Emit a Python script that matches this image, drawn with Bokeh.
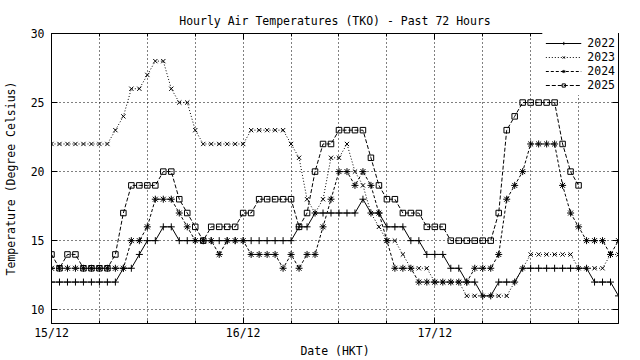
from bokeh.plotting import figure
from bokeh.models import FixedTicker, Legend, LegendItem, LinearAxis, Range1d
from bokeh.embed import file_html
from bokeh.resources import INLINE

# hours since 15/12 00:00 HKT
hours = list(range(72))
day_ticks = [0, 24, 48]
day_labels = ["15/12", "16/12", "17/12"]
six_hour_ticks = [6, 12, 18, 30, 36, 42, 54, 60, 66]
temp_ticks = [10, 15, 20, 25, 30]

t2022 = [12, 12, 12, 12, 12, 12, 12, 12, 12, 13, 13, 14, 15, 15, 16, 16,
         15, 15, 15, 15, 15, 15, 15, 15, 15, 15, 15, 15, 15, 15, 15,
         16, 16, 17, 17, 17, 17, 17, 17, 18, 17, 17, 16, 16, 16, 15, 15,
         14, 14, 14, 13, 13, 12, 12, 11, 11, 12, 12, 12,
         13, 13, 13, 13, 13, 13, 13, 13, 13, 12, 12, 12, 11]
t2023 = [22, 22, 22, 22, 22, 22, 22, 22, 23, 24, 26, 26, 27, 28, 28, 26, 25, 25, 23,
         22, 22, 22, 22, 22, 22, 23, 23, 23, 23, 23,
         22, 21, 18, 17, 18, 21, 21, 22, 20, 19, 17, 16, 15, 15, 14, 13, 13, 13,
         12, 12, 12, 12, 11, 11, 11, 11, 11, 11, 12, 13,
         14, 14, 14, 14, 14, 14, 13, 13, 13, 13, 14, 14]
t2024 = [13, 13, 13, 13, 13, 13, 13, 13, 13, 13, 15, 15, 16, 18, 18, 18,
         17, 16, 15, 15, 15, 14, 15, 15, 15, 14, 14, 14, 14,
         13, 14, 13, 14, 14, 16, 18, 20, 20, 19, 20, 19, 17, 15,
         13, 13, 13, 12, 12, 12, 12, 12, 12, 12, 13, 13, 13,
         14, 18, 19, 20, 22, 22, 22, 22, 19, 17, 16, 15, 15, 15, 14, 15]
t2025 = [14, 13, 14, 14, 13, 13, 13, 13, 14, 17, 19, 19, 19, 19, 20, 20,
         18, 17, 16, 15, 16, 16, 16, 16, 17, 17, 18, 18, 18, 18, 18,
         16, 17, 20, 22, 22, 23, 23, 23, 23, 21, 19, 18, 18, 17, 17, 17,
         16, 16, 16, 15, 15, 15, 15, 15, 15, 17, 23, 24, 25, 25, 25, 25, 25,
         22, 20, 19]

FONT = "DejaVu Sans Mono"
FS = "11.5px"

p = figure(width=640, height=360, output_backend="svg", toolbar_location=None,
           x_range=Range1d(0, 71), y_range=Range1d(9, 30),
           min_border_left=49, min_border_right=22, min_border_top=33,
           min_border_bottom=37, background_fill_color="white",
           border_fill_color="white")

p.outline_line_color = "black"
p.outline_line_width = 1
p.outline_line_alpha = 1

p.title.text = "Hourly Air Temperatures (TKO) - Past 72 Hours"
p.title.align = "center"
p.title.text_font = FONT
p.title.text_font_size = FS
p.title.text_font_style = "normal"
p.title.text_color = "black"
p.title.standoff = 12

xt = FixedTicker(ticks=day_ticks, minor_ticks=six_hour_ticks)
yt = FixedTicker(ticks=temp_ticks, minor_ticks=[])

xa = p.xaxis[0]
xa.ticker = xt
xa.major_label_overrides = {t: s for t, s in zip(day_ticks, day_labels)}
xa.axis_label = "Date (HKT)"
ya = p.yaxis[0]
ya.ticker = yt
ya.axis_label = "Temperature (Degree Celsius)"

for ax in (xa, ya):
    ax.major_label_text_font = FONT
    ax.major_label_text_font_size = FS
    ax.major_label_text_color = "black"
    ax.axis_label_text_font = FONT
    ax.axis_label_text_font_size = FS
    ax.axis_label_text_font_style = "normal"
    ax.axis_label_text_color = "black"
    ax.axis_line_color = "black"
    ax.major_tick_line_color = "black"
    ax.minor_tick_line_color = "black"
    ax.major_tick_in = 6
    ax.major_tick_out = 0
    ax.minor_tick_in = 3
    ax.minor_tick_out = 0
xa.major_label_standoff = 2
xa.axis_label_standoff = 1
ya.major_label_standoff = 7
ya.axis_label_standoff = 10

# mirrored ticks on the right and on top
ra = LinearAxis(ticker=FixedTicker(ticks=temp_ticks, minor_ticks=[]),
                major_label_overrides={t: "" for t in temp_ticks},
                major_tick_in=6, major_tick_out=0, minor_tick_in=0, minor_tick_out=0,
                major_label_standoff=0, axis_line_color="black",
                major_label_text_font_size="1px")
p.add_layout(ra, "right")
ta = LinearAxis(ticker=FixedTicker(ticks=day_ticks, minor_ticks=six_hour_ticks),
                major_label_overrides={t: "" for t in day_ticks},
                major_tick_in=6, major_tick_out=0, minor_tick_in=3, minor_tick_out=0,
                major_label_standoff=0, axis_line_color="black",
                major_label_text_font_size="1px")
p.add_layout(ta, "above")

p.xgrid.ticker = xt
p.xgrid.grid_line_color = "black"
p.xgrid.grid_line_dash = "1 3"
p.xgrid.minor_grid_line_color = "black"
p.xgrid.minor_grid_line_dash = "1 3"
p.ygrid.ticker = yt
p.ygrid.grid_line_color = "black"
p.ygrid.grid_line_dash = "1 3"

h25 = hours[:len(t2025)]

l1 = p.line(hours, t2022, line_color="black", line_width=1)
m1 = p.scatter(hours, t2022, marker="cross", size=7, line_color="black")
l2 = p.line(hours, t2023, line_color="black", line_width=1, line_dash="1 2")
m2 = p.scatter(hours, t2023, marker="x", size=6, line_color="black")
l3 = p.line(hours, t2024, line_color="black", line_width=1, line_dash="3 2")
m3 = p.scatter(hours, t2024, marker="asterisk", size=7, line_color="black")
l4 = p.line(h25, t2025, line_color="black", line_width=1, line_dash="4 2")
m4 = p.scatter(h25, t2025, marker="square", size=5.5, line_color="black",
               fill_color=None)

legend = Legend(items=[
    LegendItem(label="2022", renderers=[l1, m1]),
    LegendItem(label="2023", renderers=[l2, m2]),
    LegendItem(label="2024", renderers=[l3, m3]),
    LegendItem(label="2025", renderers=[l4, m4]),
], location="top_right", border_line_alpha=0, background_fill_color="white",
    background_fill_alpha=1, label_text_font=FONT, label_text_font_size=FS,
    label_text_color="black", label_text_line_height=0.9,
    glyph_width=36, glyph_height=8, label_height=8,
    spacing=0, padding=3, margin=0, label_standoff=6)
p.add_layout(legend)

open("out.html", "w").write(file_html(p, INLINE))
